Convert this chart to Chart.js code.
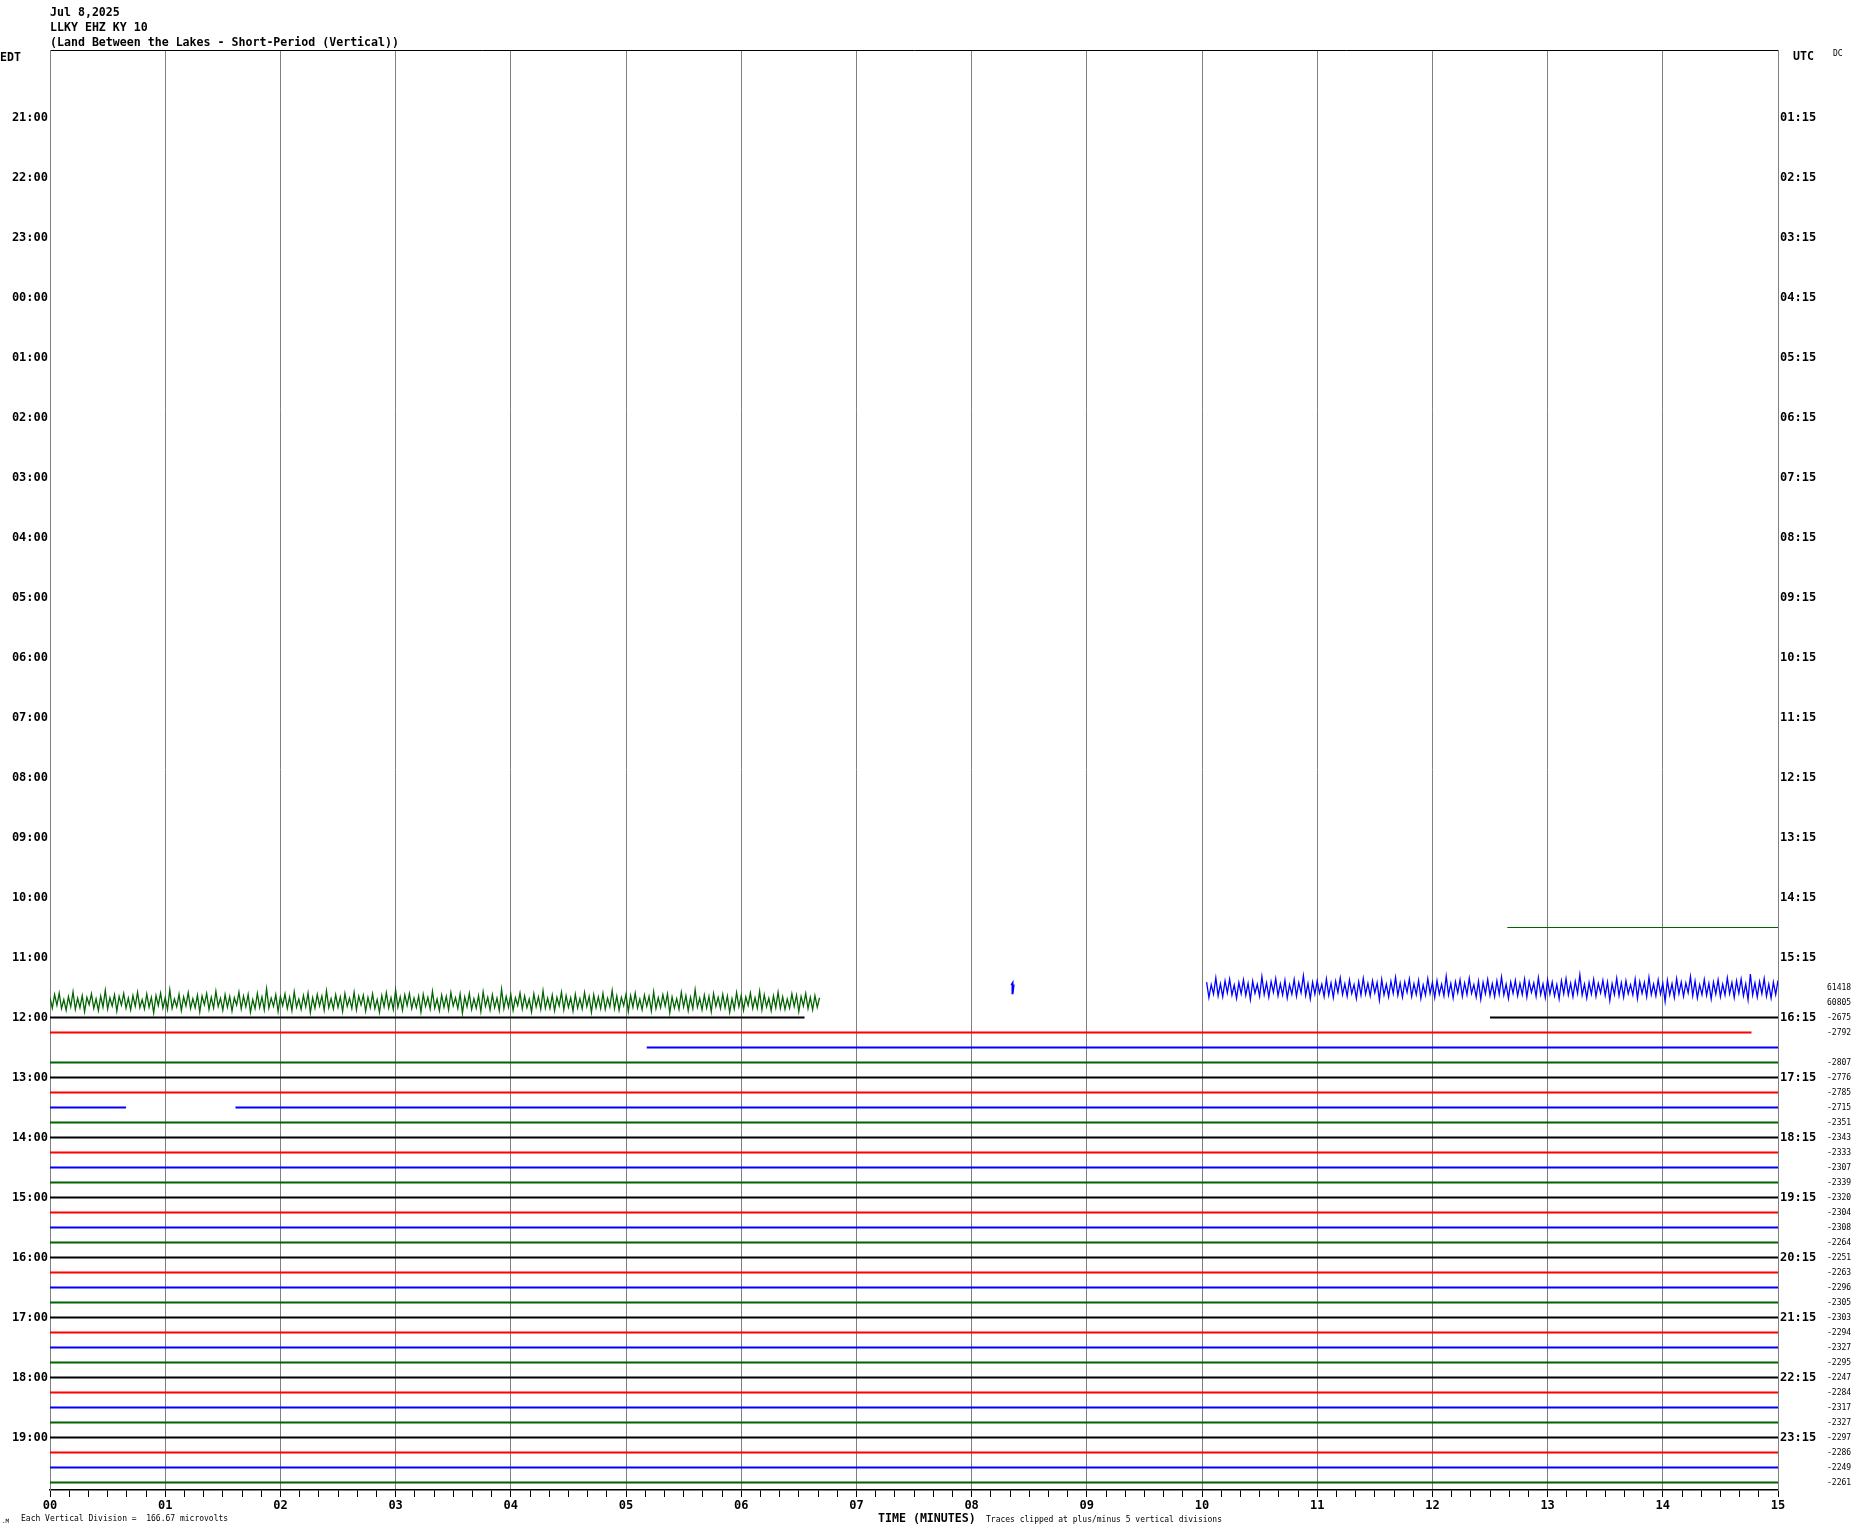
<!DOCTYPE html>
<html>
<head>
<meta charset="utf-8">
<title>LLKY EHZ KY 10 helicorder</title>
<script src="https://cdn.jsdelivr.net/npm/chart.js@4.4.1/dist/chart.umd.min.js"></script>
<style>
  html, body { margin: 0; padding: 0; background: #fff; }
  #wrap { position: relative; width: 1858px; height: 1534px; }
  .t { position: absolute; font-family: "DejaVu Sans Mono", monospace; white-space: pre; line-height: 14px; color: #000; }
  .b { font-weight: bold; font-size: 11.6px; }
  .s { font-size: 8px; }
</style>
</head>
<body>
<div id="wrap">
  <canvas id="heli"></canvas>
  <div class="t b" style="left:50px;top:5px">Jul 8,2025</div>
  <div class="t b" style="left:50px;top:20px">LLKY EHZ KY 10</div>
  <div class="t b" style="left:50px;top:35px">(Land Between the Lakes - Short-Period (Vertical))</div>
  <div class="t b" style="left:0px;top:50px">EDT</div>
  <div class="t b" style="left:1793px;top:49px">UTC</div>
  <div class="t" style="left:1833px;top:47px;font-size:8px">DC</div>
  <div class="t" style="left:2px;top:1514px;font-size:6px">.M</div>
  <div class="t s" style="left:21px;top:1512px">Each Vertical Division =  166.67 microvolts</div>
  <div class="t b" style="left:878px;top:1511px">TIME (MINUTES)</div>
  <div class="t s" style="left:986px;top:1513px">Traces clipped at plus/minus 5 vertical divisions</div>
</div>

<script>
/* ================= DATA ================= */
// hour labels, one every 4 rows (15 minutes per row)
const labelRows = [4, 8, 12, 16, 20, 24, 28, 32, 36, 40, 44, 48, 52, 56, 60, 64, 68, 72, 76, 80, 84, 88, 92];
const edtLabels = ["21:00", "22:00", "23:00", "00:00", "01:00", "02:00", "03:00", "04:00", "05:00", "06:00", "07:00", "08:00",
                   "09:00", "10:00", "11:00", "12:00", "13:00", "14:00", "15:00", "16:00", "17:00", "18:00", "19:00"];
const utcLabels = ["01:15", "02:15", "03:15", "04:15", "05:15", "06:15", "07:15", "08:15", "09:15", "10:15", "11:15", "12:15",
                   "13:15", "14:15", "15:15", "16:15", "17:15", "18:15", "19:15", "20:15", "21:15", "22:15", "23:15"];
const minuteLabels = ["00", "01", "02", "03", "04", "05", "06", "07", "08", "09", "10", "11", "12", "13", "14", "15"];

// DC offsets printed on the right
const dcRows = [62, 63, 64, 65, 67, 68, 69, 70, 71, 72, 73, 74, 75, 76, 77, 78, 79, 80, 81, 82, 83, 84, 85, 86, 87, 88, 89, 90, 91, 92, 93, 94, 95];
const dcValues = [61418, 60805, -2675, -2792, -2807, -2776, -2785, -2715, -2351, -2343, -2333, -2307, -2339, -2320, -2304, -2308,
                  -2264, -2251, -2263, -2296, -2305, -2303, -2294, -2327, -2295, -2247, -2284, -2317, -2327, -2297, -2286, -2249, -2261];

// quiet traces: row (gives the colour), level drawn at, start / end minute
const traceRow   = [59, 64, 64, 65, 66, 67, 68, 69, 70, 70, 71, 72, 73, 74, 75, 76, 77, 78, 79, 80, 81, 82, 83, 84, 85, 86, 87, 88, 89, 90, 91, 92, 93, 94, 95];
const traceLevel = [58, 64, 64, 65, 66, 67, 68, 69, 70, 70, 71, 72, 73, 74, 75, 76, 77, 78, 79, 80, 81, 82, 83, 84, 85, 86, 87, 88, 89, 90, 91, 92, 93, 94, 95];
const traceStart = [12.65, 0, 12.5, 0, 5.18, 0, 0, 0, 0, 1.61, 0, 0, 0, 0, 0, 0, 0, 0, 0, 0, 0, 0, 0, 0, 0, 0, 0, 0, 0, 0, 0, 0, 0, 0, 0];
const traceEnd   = [15, 6.55, 15, 14.77, 15, 15, 15, 15, 0.66, 15, 15, 15, 15, 15, 15, 15, 15, 15, 15, 15, 15, 15, 15, 15, 15, 15, 15, 15, 15, 15, 15, 15, 15, 15, 15];

// noisy traces, deviation in noise units, one sample every 0.02 min
const sampleStep = 0.02;
const noiseUnit = 1 / 70;   // rows per noise unit
const greenRow = 62.97, greenStart = 0;
const greenNoise = [
  -20, 28, -35, 15, -42, 30, -12, 38, -25, 22, -48, 34, -18, 26, -30, 45, -22, 12, -38, 30,
  -15, 40, -28, 24, -55, 32, -20, 18, -34, 42, -26, 14, -40, 28, -18, 36, -30, 20, -46, 26,
  -12, 32, -38, 24, -22, 50, -30, 16, -42, 28, -20, 34, -58, 30, -14, 22, -36, 40, -24, 18,
  -44, 30, -16, 26, -32, 46, -28, 12, -40, 34, -22, 28, -50, 20, -18, 38, -34, 24, -26, 42,
  -20, 14, -46, 32, -28, 22, -36, 48, -12, 30, -40, 26, -24, 36, -62, 28, -18, 20, -34, 44,
  -26, 16, -38, 30, -22, 40, -48, 24, -14, 34, -30, 22, -42, 50, -20, 28, -36, 18, -28, 38,
  -52, 26, -16, 32, -34, 24, -24, 44, -40, 20, -18, 30, -46, 36, -28, 14, -32, 42, -22, 26,
  -38, 30, -12, 48, -30, 22, -44, 28, -20, 34, -56, 24, -24, 38, -34, 16, -40, 30, -18, 26,
  -28, 46, -36, 20, -22, 32, -50, 28, -14, 40, -32, 24, -26, 36, -44, 18, -20, 30, -38, 52,
  -24, 22, -40, 34, -16, 28, -30, 44, -48, 20, -22, 36, -34, 26, -18, 40, -60, 30, -26, 24,
  -36, 38, -20, 16, -42, 32, -28, 26, -14, 46, -38, 22, -24, 34, -52, 28, -18, 30, -32, 40,
  -22, 18, -46, 36, -30, 24, -20, 42, -36, 28, -16, 32, -44, 20, -26, 48, -34, 26, -24, 30,
  -40, 34, -18, 22, -54, 30, -28, 38, -22, 16, -36, 44, -30, 24, -42, 28, -14, 36, -32, 20,
  -26, 42, -48, 30, -20, 26, -34, 18, -38, 50, -24, 28, -16, 34, -46, 22, -30, 40, -22, 30,
  -58, 24, -18, 36, -32, 28, -26, 44, -40, 20, -22, 30, -36, 26, -28, 48, -16, 32, -44, 22,
  -30, 38, -24, 16, -42, 30, -20, 28, -50, 36, -34, 22, -18, 40, -28, 26, -46, 30, -24, 34,
  -14, 28, -38, 20, -32, 44, -26, 18, -40, 30, -22, 36, -30, 24, -20
];
const blueRow = 62.07, blueStart = 10.04;
const blueNoise = [
  -30, 42, -18, 26, -50, 34, -22, 38, -36, 20, -44, 30, -16, 46, -28, 24, -40, 32, -24, 52,
  -34, 22, -20, 36, -56, 28, -26, 40, -32, 18, -46, 34, -22, 30, -38, 44, -18, 26, -42, 36,
  -28, 20, -60, 32, -24, 48, -30, 26, -36, 22, -20, 38, -44, 30, -26, 42, -34, 18, -50, 28,
  -22, 36, -40, 24, -18, 46, -32, 30, -48, 26, -24, 34, -36, 20, -28, 54, -42, 30, -20, 38,
  -34, 22, -52, 32, -26, 40, -30, 18, -44, 36, -22, 28, -38, 46, -16, 30, -46, 24, -28, 42,
  -36, 26, -20, 34, -58, 30, -24, 44, -32, 20, -40, 36, -26, 28, -48, 22, -18, 40, -34, 50,
  -28, 24, -42, 32, -22, 38, -36, 26, -54, 30, -20, 46, -30, 22, -38, 34, -24, 28, -44, 40,
  -32, 18, -26, 36, -50, 28, -22, 42, -40, 26, -30, 34, -18, 48, -36, 24, -46, 30, -24, 38,
  -34, 22, -64, 30, -20, 44, -28, 26, -42, 36, -24, 20, -38, 32, -30, 56, -22, 28, -48, 34,
  -26, 40, -36, 24, -18, 30, -44, 46, -32, 22, -28, 38, -52, 28, -20, 34, -40, 26, -24, 60,
  -38, 30, -22, 42, -46, 24, -30, 36, -26, 20, -56, 34, -34, 44, -18, 28, -42, 32, -24, 48,
  -30, 26, -40, 38, -20, 30, -50, 24, -28, 42, -36, 22, -44, 34, -22, 52, -68, 30, -26, 40,
  -32, 24, -46, 36, -20, 44, -30, 28, -38
];

// small blue glitch near 08:20
const spikeX = [8.345, 8.355, 8.355, 8.365];
const spikeY = [61.85, 61.72, 62.45, 61.8];

/* ================= STYLE ================= */
const rowColors = ["#000000", "#ff0000", "#0000ff", "#006400"];
const gridGray = "#808080";
const monoFont = "'DejaVu Sans Mono', monospace";

/* ================= DATASETS ================= */
const datasets = [];

traceRow.forEach((row, i) => {
  datasets.push({
    data: [{ x: traceStart[i] * 60, y: traceLevel[i] }, { x: traceEnd[i] * 60, y: traceLevel[i] }],
    borderColor: rowColors[row % 4],
    borderWidth: row === 59 ? 1 : 2
  });
});

datasets.push({
  data: greenNoise.map((v, i) => ({ x: (greenStart + i * sampleStep) * 60, y: greenRow + v * noiseUnit })),
  borderColor: rowColors[3],
  borderWidth: 1.3
});

datasets.push({
  data: blueNoise.map((v, i) => ({ x: (blueStart + i * sampleStep) * 60, y: blueRow + v * noiseUnit })),
  borderColor: rowColors[2],
  borderWidth: 1.3
});

datasets.push({
  data: spikeX.map((x, i) => ({ x: x * 60, y: spikeY[i] })),
  borderColor: rowColors[2],
  borderWidth: 2
});

/* ================= CHART ================= */
const rowAxis = {
  type: "linear",
  min: -0.5,
  max: 95.5,
  reverse: true,
  grid: { display: false, drawTicks: false },
  border: { color: gridGray, width: 1 }
};

new Chart(document.getElementById("heli"), {
  type: "line",
  data: { datasets: datasets },
  options: {
    animation: false,
    responsive: true,
    maintainAspectRatio: false,
    layout: { padding: { top: 50, left: 0, right: 0, bottom: 0 } },
    elements: {
      point: { radius: 0 },
      line: { tension: 0, fill: false }
    },
    plugins: {
      legend: { display: false },
      tooltip: { enabled: false }
    },
    scales: {
      x: {
        type: "linear",
        position: "bottom",
        min: 0,
        max: 900,
        ticks: {
          stepSize: 10,
          autoSkip: false,
          maxRotation: 0,
          padding: 2,
          color: "#000",
          font: { family: monoFont, size: 12, weight: "bold" },
          callback: v => (Math.round(v) % 60 === 0 ? minuteLabels[Math.round(v) / 60] : "")
        },
        grid: {
          color: c => (c.tick && Math.round(c.tick.value) % 60 === 0 ? gridGray : "rgba(0,0,0,0)"),
          tickColor: "#000",
          tickLength: 7,
          lineWidth: 1
        },
        border: { color: "#000", width: 1.5 },
        afterFit: s => { s.height = 44; }
      },
      xTop: {
        type: "linear",
        position: "top",
        min: 0,
        max: 900,
        ticks: { display: false },
        grid: { display: false, drawTicks: false },
        border: { color: "#000", width: 1 },
        afterFit: s => { s.height = 0; }
      },
      y: {
        ...rowAxis,
        position: "left",
        afterBuildTicks: s => { s.ticks = labelRows.map(v => ({ value: v })); },
        ticks: {
          autoSkip: false,
          padding: 2,
          color: "#000",
          font: { family: monoFont, size: 12, weight: "bold" },
          callback: v => edtLabels[labelRows.indexOf(v)]
        },
        afterFit: s => { s.width = 50; }
      },
      yUtc: {
        ...rowAxis,
        position: "right",
        weight: 0,
        afterBuildTicks: s => { s.ticks = labelRows.map(v => ({ value: v })); },
        ticks: {
          autoSkip: false,
          padding: 2,
          color: "#000",
          font: { family: monoFont, size: 12, weight: "bold" },
          callback: v => utcLabels[labelRows.indexOf(v)]
        },
        afterFit: s => { s.width = 48; }
      },
      yDc: {
        ...rowAxis,
        position: "right",
        weight: 1,
        border: { display: false },
        afterBuildTicks: s => { s.ticks = dcRows.map(v => ({ value: v })); },
        ticks: {
          autoSkip: false,
          padding: 1,
          color: "#000",
          font: { family: monoFont, size: 8 },
          callback: v => String(dcValues[dcRows.indexOf(v)])
        },
        afterFit: s => { s.width = 32; }
      }
    }
  }
});
</script>
</body>
</html>
